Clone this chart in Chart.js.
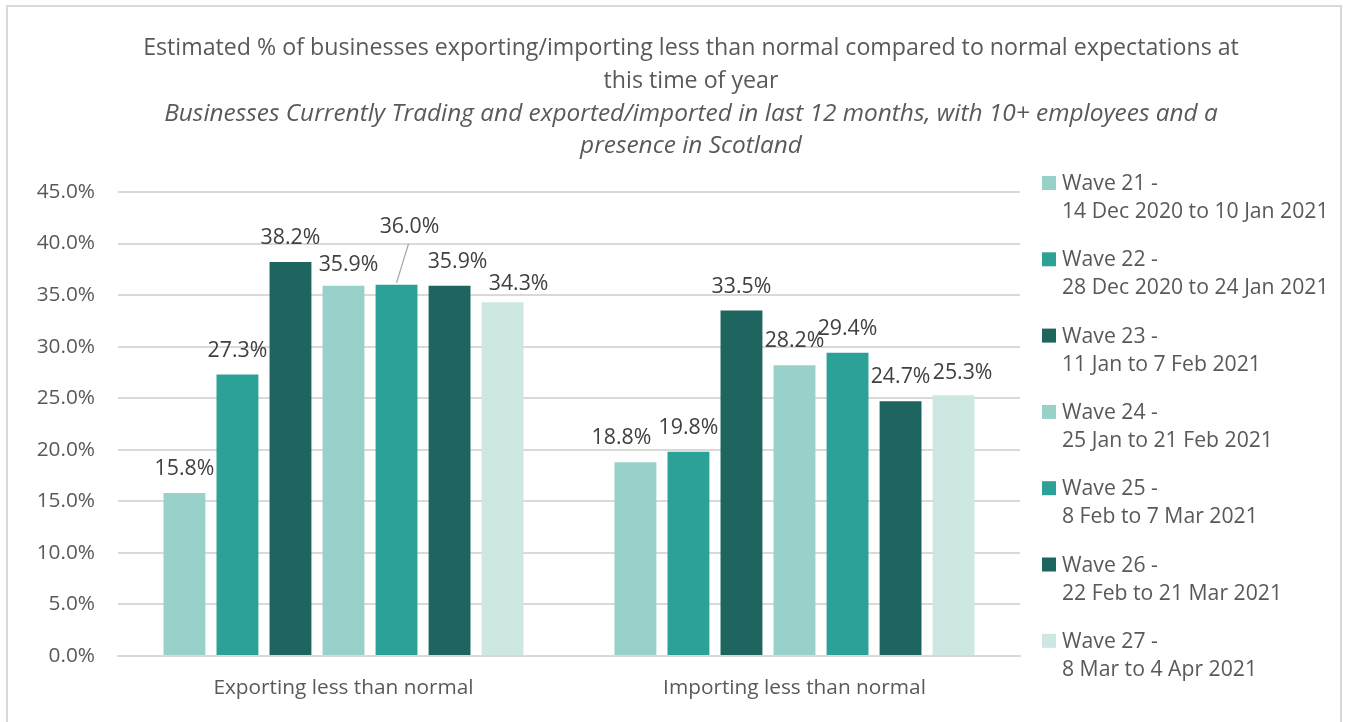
<!DOCTYPE html>
<html>
<head>
<meta charset="utf-8">
<script src="https://cdn.jsdelivr.net/npm/chart.js@4/dist/chart.umd.min.js"></script>
<style>
  html, body { margin: 0; padding: 0; background: #fff; overflow: hidden; }
  #wrap { position: relative; width: 1351px; height: 722px; }
  #frame { position: absolute; left: 6px; top: 5px; width: 1336px; height: 740px; border: 2px solid #d9d9d9; box-sizing: border-box; }
  #chart { position: absolute; left: 0; top: 0; }
</style>
</head>
<body>
<div id="wrap">
  <div id="frame"></div>
  <canvas id="chart" width="1351" height="722"></canvas>
</div>
<script>
// 차트 데이터
const categories = ['Exporting less than normal', 'Importing less than normal'];
const waveNames = ['Wave 21 -', 'Wave 22 -', 'Wave 23 -', 'Wave 24 -', 'Wave 25 -', 'Wave 26 -', 'Wave 27 -'];
const waveDates = [
  '14 Dec 2020 to 10 Jan 2021',
  '28 Dec 2020 to 24 Jan 2021',
  '11 Jan to 7 Feb 2021',
  '25 Jan to 21 Feb 2021',
  '8 Feb to 7 Mar 2021',
  '22 Feb to 21 Mar 2021',
  '8 Mar to 4 Apr 2021'
];
const exportingValues = [15.8, 27.3, 38.2, 35.9, 36.0, 35.9, 34.3];
const importingValues = [18.8, 19.8, 33.5, 28.2, 29.4, 24.7, 25.3];
const yTicks = [0, 5, 10, 15, 20, 25, 30, 35, 40, 45];

const titleLines = [
  'Estimated % of businesses exporting/importing less than normal compared to normal expectations at',
  'this time of year'
];
const subtitleLines = [
  'Businesses Currently Trading and exported/imported in last 12 months, with 10+ employees and a',
  'presence in Scotland'
];

// 스타일
const waveColors = ['#97D1CA', '#2CA197', '#1D655E', '#97D1CA', '#2CA197', '#1D655E', '#CDE7E3'];
const FONT = '"Open Sans", Lato, sans-serif';
const textGrey = '#595959';

// 라벨 위치 보정 (엑셀에서 겹침 때문에 옮겨진 라벨) key: datasetIndex_dataIndex
const labelNudge = {
  '4_0': { dx: 13, dy: -34, leader: true },
  '6_0': { dx: 16, dy: 6 },
  '5_0': { dx: 8, dy: 0 },
  '3_0': { dx: 5, dy: 3 },
  '0_1': { dx: -14, dy: 0 },
  '6_1': { dx: 9, dy: 2 }
};

const datasets = waveNames.map((name, i) => ({
  label: name + ' ' + waveDates[i],
  data: [exportingValues[i], importingValues[i]],
  backgroundColor: waveColors[i],
  borderWidth: 0,
  categoryPercentage: 0.823,
  barPercentage: 0.79
}));

// 값 라벨 그리는 플러그인
const valueLabels = {
  id: 'valueLabels',
  afterDatasetsDraw(chart) {
    const ctx = chart.ctx;
    ctx.save();
    ctx.font = '21.3px ' + FONT;
    ctx.fillStyle = '#404040';
    ctx.textAlign = 'center';
    ctx.textBaseline = 'middle';
    chart.data.datasets.forEach((ds, di) => {
      chart.getDatasetMeta(di).data.forEach((bar, i) => {
        const nudge = labelNudge[di + '_' + i] || { dx: 0, dy: 0 };
        const x = bar.x + nudge.dx;
        const y = bar.y - 24 + nudge.dy;
        if (nudge.leader) {
          ctx.strokeStyle = '#a6a6a6';
          ctx.lineWidth = 1.2;
          ctx.beginPath();
          ctx.moveTo(x - 1, y + 17);
          ctx.lineTo(bar.x, bar.y - 2);
          ctx.stroke();
        }
        ctx.fillText(ds.data[i].toFixed(1) + '%', x, y);
      });
    });
    ctx.restore();
  }
};

// 제목 + 범례 (두 줄 범례라서 직접 그림)
const titleAndLegend = {
  id: 'titleAndLegend',
  afterDraw(chart) {
    const ctx = chart.ctx;
    ctx.save();
    ctx.fillStyle = textGrey;
    ctx.textAlign = 'center';
    ctx.textBaseline = 'middle';
    ctx.font = '23.2px ' + FONT;
    ctx.fillText(titleLines[0], 691, 48);
    ctx.fillText(titleLines[1], 691, 81);
    ctx.font = 'italic 24.4px ' + FONT;
    ctx.fillText(subtitleLines[0], 691, 114);
    ctx.fillText(subtitleLines[1], 691, 146);

    ctx.textAlign = 'left';
    ctx.font = '21.2px ' + FONT;
    chart.data.datasets.forEach((ds, i) => {
      const y = 184 + i * 76.3;
      ctx.fillStyle = ds.backgroundColor;
      ctx.fillRect(1042, y - 8, 14, 14);
      ctx.fillStyle = textGrey;
      ctx.fillText(waveNames[i], 1062, y);
      ctx.fillText(waveDates[i], 1062, y + 28);
    });
    ctx.restore();
  }
};

new Chart(document.getElementById('chart'), {
  type: 'bar',
  data: { labels: categories, datasets: datasets },
  options: {
    responsive: false,
    animation: false,
    layout: { padding: { top: 192, right: 331, left: 0, bottom: 0 } },
    plugins: {
      legend: { display: false },
      title: { display: false },
      tooltip: { enabled: false }
    },
    scales: {
      x: {
        grid: { display: false, drawTicks: false },
        border: { display: true, color: '#d9d9d9', width: 2 },
        ticks: { color: textGrey, font: { family: FONT, size: 20.8 }, padding: 20 },
        afterFit(scale) { scale.height = 66; }
      },
      y: {
        min: 0,
        max: 45,
        afterBuildTicks(scale) { scale.ticks = yTicks.map(v => ({ value: v })); },
        grid: { color: '#d9d9d9', lineWidth: 2, drawTicks: false },
        border: { display: false },
        ticks: {
          color: textGrey,
          font: { family: FONT, size: 20.8 },
          padding: 23,
          callback: v => v.toFixed(1) + '%'
        },
        afterFit(scale) { scale.width = 118; }
      }
    }
  },
  plugins: [valueLabels, titleAndLegend]
});
</script>
</body>
</html>
